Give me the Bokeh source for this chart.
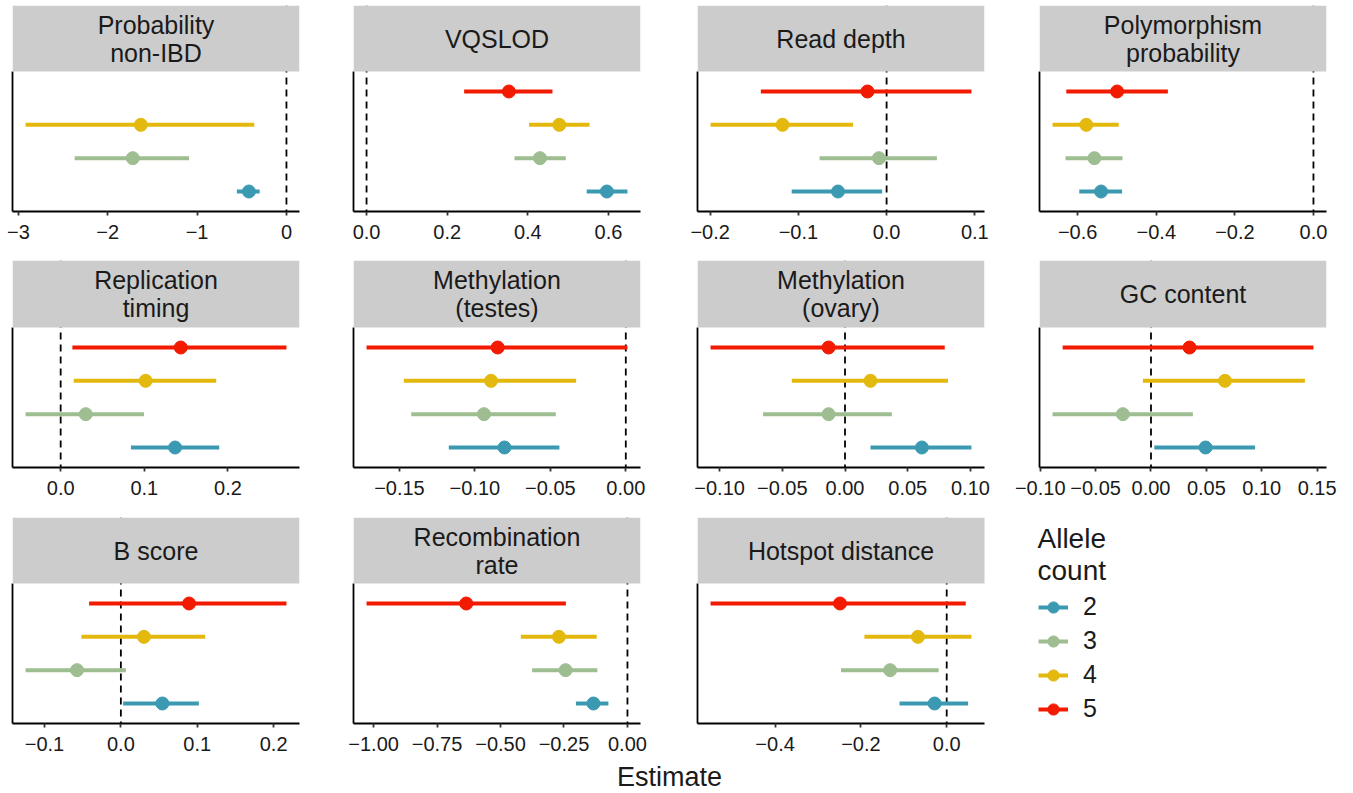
import math
from bokeh.plotting import figure
from bokeh.layouts import row, column
from bokeh.models import (ColumnDataSource, Span, BoxAnnotation, Label, FixedTicker,
                          LinearAxis, Range1d, CustomJSTickFormatter, Legend, LegendItem)
from bokeh.embed import file_html
from bokeh.resources import INLINE

FONT = "Liberation Sans"
NAN = float("nan")

# ---------------- data ----------------
variables = ["Probability\nnon-IBD", "VQSLOD", "Read depth", "Polymorphism\nprobability",
             "Replication\ntiming", "Methylation\n(testes)", "Methylation\n(ovary)", "GC content",
             "B score", "Recombination\nrate", "Hotspot distance"]
alleles = ["2", "3", "4", "5"]
allele_colors = ["#3B9AB2", "#9EBE91", "#E4B90E", "#F21A00"]

# allele count 2
lo_2 = [-0.555, 0.546, -0.1076, -0.596, 0.084, -0.1173, 0.0203, 0.003, 0.003, -0.203, -0.110]
est_2 = [-0.420, 0.596, -0.0551, -0.5405, 0.1368, -0.0804, 0.0613, 0.0493, 0.0543, -0.134, -0.0281]
hi_2 = [-0.300, 0.647, -0.005, -0.487, 0.1896, -0.044, 0.1008, 0.094, 0.1021, -0.075, 0.0499]
# allele count 3
lo_3 = [-2.37, 0.367, -0.076, -0.631, -0.042, -0.1422, -0.0653, -0.0889, -0.1248, -0.3755, -0.2464]
est_3 = [-1.72, 0.430, -0.0087, -0.5575, 0.030, -0.094, -0.0131, -0.0254, -0.0574, -0.2437, -0.1318]
hi_3 = [-1.09, 0.494, 0.057, -0.486, 0.0996, -0.0464, 0.0373, 0.0378, 0.0066, -0.1186, -0.0187]
# allele count 4
lo_4 = [-2.92, 0.403, -0.1996, -0.664, 0.0156, -0.1471, -0.0424, -0.0073, -0.0517, -0.420, -0.1918]
est_4 = [-1.63, 0.478, -0.118, -0.578, 0.1016, -0.0893, 0.0203, 0.0668, 0.0302, -0.270, -0.067]
hi_4 = [-0.36, 0.553, -0.038, -0.4955, 0.186, -0.0329, 0.0821, 0.139, 0.1104, -0.121, 0.0577]
# allele count 5
lo_5 = [NAN, 0.242, -0.1426, -0.629, 0.014, -0.1718, -0.1072, -0.0798, -0.0416, -1.0277, -0.5505]
est_5 = [NAN, 0.353, -0.0217, -0.4997, 0.1436, -0.0849, -0.0131, 0.0348, 0.0893, -0.635, -0.2487]
hi_5 = [NAN, 0.461, 0.0962, -0.3705, 0.270, 0.0011, 0.0795, 0.1467, 0.2168, -0.2424, 0.0444]

tick_labels = [
    ["−3", "−2", "−1", "0"],
    ["0.0", "0.2", "0.4", "0.6"],
    ["−0.2", "−0.1", "0.0", "0.1"],
    ["−0.6", "−0.4", "−0.2", "0.0"],
    ["0.0", "0.1", "0.2"],
    ["−0.15", "−0.10", "−0.05", "0.00"],
    ["−0.10", "−0.05", "0.00", "0.05", "0.10"],
    ["−0.10", "−0.05", "0.00", "0.05", "0.10", "0.15"],
    ["−0.1", "0.0", "0.1", "0.2"],
    ["−1.00", "−0.75", "−0.50", "−0.25", "0.00"],
    ["−0.4", "−0.2", "0.0"],
]

legend_title = "Allele\ncount"
x_title = "Estimate"

lo = {"2": lo_2, "3": lo_3, "4": lo_4, "5": lo_5}
est = {"2": est_2, "3": est_3, "4": est_4, "5": est_5}
hi = {"2": hi_2, "3": hi_3, "4": hi_4, "5": hi_5}

# ---------------- layout constants ----------------
FRAME_W = 287
PLOT_H = 140
col_borders = [(12, 28), (26, 28), (29, 27), (28, 27)]
row_specs = [(5, 66, 49), (0, 67, 50), (0, 66, 36)]  # top border, strip height, bottom border
TEXT = "#1A1A1A"


def make_panel(k, ci, ri, legend_px=0):
    lb, rb = col_borders[ci]
    tb, strip_h, bb = row_specs[ri]
    lows = [lo[a][k] for a in alleles if not math.isnan(lo[a][k])] + [0.0]
    highs = [hi[a][k] for a in alleles if not math.isnan(hi[a][k])] + [0.0]
    xmin, xmax = min(lows), max(highs)
    pad = 0.05 * (xmax - xmin)
    x0, x1 = xmin - pad, xmax + pad
    # optional extra room inside the frame (to the right) for the legend
    x1_frame = x1 + legend_px * (x1 - x0) / FRAME_W
    xr = Range1d(x0, x1_frame)
    unit = PLOT_H / 4.2
    y_top = 4.6 + strip_h / unit
    p = figure(width=lb + FRAME_W + legend_px + rb, height=tb + strip_h + PLOT_H + bb,
               x_range=xr, y_range=Range1d(0.4, y_top),
               output_backend="svg", toolbar_location=None,
               x_axis_location=None, y_axis_location=None,
               min_border_left=lb, min_border_right=rb,
               min_border_top=tb, min_border_bottom=bb)
    p.outline_line_color = None
    p.background_fill_color = "white"
    p.border_fill_color = "white"
    p.grid.visible = False

    labels = tick_labels[k]
    vals = [float(s.replace("−", "-")) for s in labels]
    fmt = CustomJSTickFormatter(args=dict(vals=vals, labs=labels), code="""
        for (let i = 0; i < vals.length; i++) {
            if (Math.abs(vals[i] - tick) < 1e-9) return labs[i];
        }
        return String(tick);
    """)
    xaxis = LinearAxis(ticker=FixedTicker(ticks=vals), formatter=fmt,
                       bounds=(x0, x1),
                       axis_line_color="black", axis_line_width=1.8,
                       major_tick_line_color="#333333", major_tick_line_width=1.8,
                       major_tick_out=4, major_tick_in=0,
                       minor_tick_out=0, minor_tick_in=0,
                       major_label_standoff=9,
                       major_label_text_font=FONT, major_label_text_font_size="20px",
                       major_label_text_color=TEXT)
    p.add_layout(xaxis, "below")
    yaxis = LinearAxis(ticker=FixedTicker(ticks=[]), bounds=(0.4, 4.6),
                       axis_line_color="black", axis_line_width=1.8,
                       major_tick_out=0, major_tick_in=0,
                       minor_tick_out=0, minor_tick_in=0,
                       major_label_standoff=0, major_label_text_font_size="0px")
    p.add_layout(yaxis, "left")

    p.add_layout(Span(location=0, dimension="height", line_color="black",
                      line_width=1.8, line_dash="7 5", level="underlay"))

    rends = {}
    for a, c in zip(alleles, allele_colors):
        if math.isnan(est[a][k]):
            continue
        yv = alleles.index(a) + 1
        src = ColumnDataSource(data=dict(lo=[lo[a][k]], hi=[hi[a][k]],
                                         est=[est[a][k]], y=[yv]))
        r1 = p.segment(x0="lo", y0="y", x1="hi", y1="y", source=src,
                       line_color=c, line_width=4)
        r2 = p.scatter(x="est", y="y", source=src, size=13, fill_color=c,
                       line_color=c, line_width=1)
        rends[a] = [r1, r2]

    p.add_layout(BoxAnnotation(bottom=4.6, right=x1, fill_color="#CCCCCC", fill_alpha=1.0,
                               line_alpha=0))
    p.add_layout(Label(x=(x0 + x1) / 2, y=4.6 + strip_h / 2 / unit,
                       text=variables[k], text_align="center", text_baseline="middle",
                       text_font=FONT, text_font_size="25px", text_color=TEXT,
                       text_line_height=1.0))
    return p, rends


LEGEND_PX = 342
panels = []
last_rends = None
for k in range(len(variables)):
    ri, ci = divmod(k, 4)
    lpx = LEGEND_PX if k == len(variables) - 1 else 0
    p, rends = make_panel(k, ci, ri, legend_px=lpx)
    panels.append(p)
    last_rends = rends

# legend inside the widened frame of the last panel
lp = panels[-1]
items = [LegendItem(label=a, renderers=last_rends[a]) for a in alleles]
legend = Legend(items=items, location=(341, 0), glyph_width=30, glyph_height=28,
                label_height=28, label_standoff=15, spacing=5, padding=0, margin=0,
                border_line_color=None, background_fill_alpha=0,
                label_text_font=FONT, label_text_font_size="25px", label_text_color=TEXT)
lp.add_layout(legend)
lp.add_layout(Label(x=340, y=169, x_units="screen", y_units="screen", text=legend_title,
                    text_baseline="middle", text_align="left", text_font=FONT,
                    text_font_size="28px", text_color=TEXT, text_line_height=1.02))

# x axis title
est_fig = figure(width=1353, height=33, output_backend="svg", toolbar_location=None,
                 x_axis_location=None, y_axis_location=None, min_border=0)
est_fig.outline_line_color = None
est_fig.grid.visible = False
est_fig.add_layout(Label(x=669, y=16, x_units="screen", y_units="screen", text=x_title,
                         text_align="center", text_baseline="middle", text_font=FONT,
                         text_font_size="27px", text_color=TEXT))

layout = column(
    row(*panels[0:4]),
    row(*panels[4:8]),
    row(*panels[8:11]),
    est_fig,
)

open("out.html", "w").write(file_html(layout, INLINE))
